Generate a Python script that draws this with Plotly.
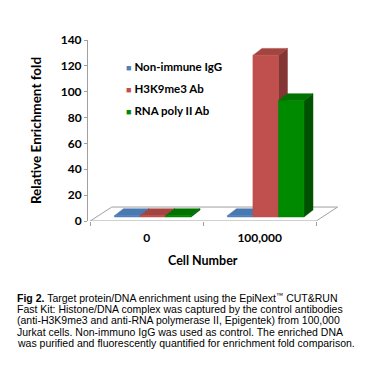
import plotly.graph_objects as go

# ---- data ----
categories = ["0", "100,000"]
series_names = ["Non-immune IgG", "H3K9me3 Ab", "RNA poly II Ab"]
igg_values = [1, 1]
h3k9me3_values = [1, 125]
rnapol2_values = [1, 90]
y_tick_values = [0, 20, 40, 60, 80, 100, 120, 140]
caption_lines = [
    "<b>Fig 2.</b> Target protein/DNA enrichment using the EpiNext<sup>™</sup> CUT&RUN",
    "Fast Kit: Histone/DNA complex was captured by the control antibodies",
    "(anti-H3K9me3 and anti-RNA polymerase II, Epigentek) from 100,000",
    "Jurkat cells. Non-immuno IgG was used as control. The enriched DNA",
    "was purified and fluorescently quantified for enrichment fold comparison.",
]

series_values = [igg_values, h3k9me3_values, rnapol2_values]

# ---- styles ----
front_colors = ["#4F81BD", "#C0504D", "#008A00"]
top_colors = ["#4A78B0", "#A44441", "#007300"]
side_colors = ["#3A6090", "#843634", "#005200"]
grey = "#A0A0A0"
chart_font = "Lato"

# 3D geometry (axis units)
bar_w = 0.226
plane_dx, plane_dy = 0.053, 3.1
depth_dx, depth_dy = 0.08, 5.4
floor_dx, floor_dy = 0.19, 10.8

W, H = 369, 369
ml, mr, mt, mb = 88, 28, 40, 148
pw, ph = W - ml - mr, H - mt - mb


def px2paper(px, py):
    return (px - ml) / pw, (H - mb - py) / ph


fig = go.Figure()

# floor
n = len(categories)
fx = [-0.5, n - 0.5, n - 0.5 + floor_dx, -0.5 + floor_dx, -0.5]
fy = [0, 0, floor_dy, floor_dy, 0]
fig.add_trace(go.Scatter(x=fx, y=fy, mode="lines", fill="toself",
                         fillcolor="#FFFFFF", line=dict(color=grey, width=1),
                         hoverinfo="skip", showlegend=False))


def poly(xs, ys, color):
    fig.add_trace(go.Scatter(x=xs + [xs[0]], y=ys + [ys[0]], mode="lines",
                             fill="toself", fillcolor=color,
                             line=dict(color=color, width=0.5),
                             hoverinfo="skip", showlegend=False))


for c in range(n):
    for s in range(len(series_names)):
        v = series_values[s][c]
        x0 = c + plane_dx - 1.5 * bar_w + s * bar_w
        x1 = x0 + bar_w
        yb = plane_dy
        yt = plane_dy + v
        # side face
        poly([x1, x1 + depth_dx, x1 + depth_dx, x1],
             [yb, yb + depth_dy, yt + depth_dy, yt], side_colors[s])
        # top face
        poly([x0, x1, x1 + depth_dx, x0 + depth_dx],
             [yt, yt, yt + depth_dy, yt + depth_dy], top_colors[s])
        # front face
        poly([x0, x1, x1, x0], [yb, yb, yt, yt], front_colors[s])

# legend as annotations
leg_y = [66, 88, 110]
for s, name in enumerate(series_names):
    px, py = px2paper(124, leg_y[s])
    fig.add_annotation(
        x=px, y=py, xref="paper", yref="paper", xanchor="left", yanchor="middle",
        showarrow=False,
        text=f"<span style='color:{front_colors[s]};font-size:9px'>■</span> <b>{name}</b>",
        font=dict(family=chart_font, size=11.5, color="#000000"))

# x-axis title centred under the category axis
_, ty = px2paper(0, 260)
fig.add_annotation(x=(n - 1) / 2, y=ty, xref="x", yref="paper", xanchor="center",
                   yanchor="middle", showarrow=False, text="<b>Cell Number</b>",
                   font=dict(family=chart_font, size=12.5, color="#000000"))

# caption, one annotation per line
cap_y = [297, 308.5, 320, 331.5, 343]
for line, ly in zip(caption_lines, cap_y):
    cx, cy = px2paper(15, ly)
    fig.add_annotation(x=cx, y=cy, xref="paper", yref="paper", xanchor="left",
                       yanchor="middle", align="left", showarrow=False, text=line,
                       font=dict(family="Liberation Sans", size=10.5, color="#000000"))

fig.update_layout(
    width=W, height=H,
    margin=dict(l=ml, r=mr, t=mt, b=mb, pad=0),
    paper_bgcolor="white", plot_bgcolor="white",
    showlegend=False,
    xaxis=dict(range=[-0.52, n - 0.5 + 0.22], tickvals=list(range(n)), ticktext=categories,
               ticks="", showgrid=False, zeroline=False, showline=False,
               tickfont=dict(family=chart_font, size=12, color="#000000", weight="bold"),
               ticklabelstandoff=8,
               minor=dict(ticks="outside", tick0=0.5, dtick=1, ticklen=4, tickcolor=grey,
                          showgrid=False)),
    yaxis=dict(range=[0, 140], tickvals=y_tick_values, ticks="outside", ticklen=3,
               tickcolor=grey, showline=True, linecolor=grey, linewidth=1,
               showgrid=False, zeroline=False,
               tickfont=dict(family=chart_font, size=12, color="#000000", weight="bold"),
               title=dict(text="<b>Relative Enrichment fold</b>", standoff=15,
                          font=dict(family=chart_font, size=13.5, color="#000000"))),
)

fig.write_html("out.html", config={"displayModeBar": False},
               post_script="document.body.style.margin='0';")
